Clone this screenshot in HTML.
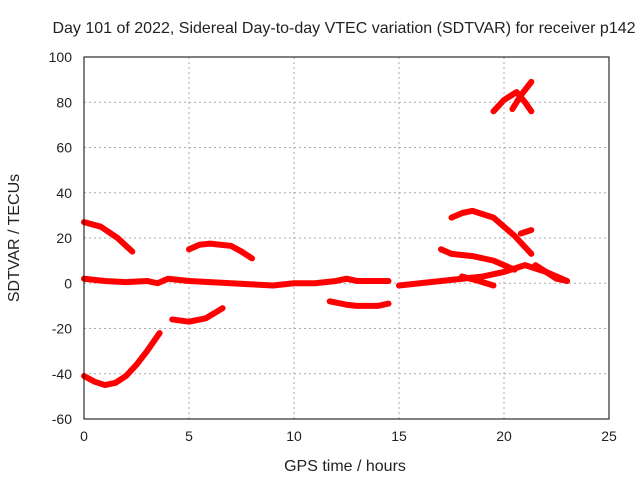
<!DOCTYPE html>
<html><head><meta charset="utf-8"><style>
body{margin:0;background:#fff;}
svg text{font-family:"Liberation Sans",sans-serif;font-size:14px;fill:#222;}
svg text.big{font-size:16px;}
</style></head><body>
<svg width="640" height="480" id="c">
<rect width="640" height="480" fill="#fff"/>
<text class="big" x="344" y="33" text-anchor="middle">Day 101 of 2022, Sidereal Day-to-day VTEC variation (SDTVAR) for receiver p142</text>
<text class="big" x="345" y="471" text-anchor="middle">GPS time / hours</text>
<text class="big" transform="translate(19,238) rotate(-90)" text-anchor="middle">SDTVAR / TECUs</text>
<g id="grid"></g><g id="series"></g>
<rect x="84" y="57" width="525" height="362" fill="none" stroke="#000" stroke-width="1"/>
</svg>
<script>
const xTicks=[0,5,10,15,20,25];
const yTicks=[-60,-40,-20,0,20,40,60,80,100];
const seg1x=[0,0.8,1.6,2.3], seg1y=[27,25,20,14];
const seg2x=[0,0.5,1,1.5,2,2.5,3,3.6], seg2y=[-41,-43.5,-45,-44,-41,-36,-30,-22];
const seg3x=[4.2,5,5.8,6.6], seg3y=[-16,-17,-15.5,-11];
const seg4x=[5,5.5,6,7,7.5,8], seg4y=[15,17,17.5,16.5,14,11];
const seg5x=[0,1,2,3,3.5,4,5,6,7,8,9,10,11,12,12.5,13,14,14.5], seg5y=[2,1,0.5,1,0,2,1,0.5,0,-0.5,-1,0,0,1,2,1,1,1];
const seg6x=[11.7,12.5,13,14,14.5], seg6y=[-8,-9.5,-10,-10,-9];
const seg7x=[15,16,17,18,19,20,21,22,23], seg7y=[-1,0,1,2,3,5,8,5,1];
const seg8x=[17,17.5,18.5,19.5,20.5], seg8y=[15,13,12,10,6];
const seg9x=[17.5,18,18.5,19.5,20.5,21.3], seg9y=[29,31,32,29,21,13];
const seg10x=[19.5,20,20.6,21,21.3], seg10y=[76,81,84.5,80,76];
const seg11x=[20.4,20.8,21.3], seg11y=[77,83,89];
const seg12x=[18,18.8,19.5], seg12y=[3,1,-1];
const seg13x=[20.8,21.3], seg13y=[22,23.5];
const seg14x=[21.5,22,22.5,23], seg14y=[8,5,2,1];
const segsX=[seg1x,seg2x,seg3x,seg4x,seg5x,seg6x,seg7x,seg8x,seg9x,seg10x,seg11x,seg12x,seg13x,seg14x];
const segsY=[seg1y,seg2y,seg3y,seg4y,seg5y,seg6y,seg7y,seg8y,seg9y,seg10y,seg11y,seg12y,seg13y,seg14y];
const X=v=>84+v*21, Y=v=>419-(v+60)*362/160;
const NS="http://www.w3.org/2000/svg";
const g=document.getElementById('grid'), s=document.getElementById('series');
function mk(t,a,p){const e=document.createElementNS(NS,t);for(const k in a)e.setAttribute(k,a[k]);p.appendChild(e);return e;}
xTicks.forEach(v=>{
 if(v>0&&v<25){const l=mk('line',{x1:X(v),x2:X(v),y1:57,y2:419,stroke:'#aaa','stroke-dasharray':'2,3'},g);
 
 }
 const t=mk('text',{x:X(v),y:441,'text-anchor':'middle'},g);t.textContent=v;
 
 
});
yTicks.forEach(v=>{
 if(v>-60&&v<100){const l=mk('line',{x1:84,x2:609,y1:Y(v),y2:Y(v),stroke:'#aaa','stroke-dasharray':'2,3'},g);
 
 }
 const t=mk('text',{x:72,y:Y(v)+5,'text-anchor':'end'},g);t.textContent=v;
 
 
});
segsX.forEach((xs,i)=>{
 const pts=xs.map((x,j)=>X(x)+','+Y(segsY[i][j])).join(' ');
 const p=mk('polyline',{points:pts,fill:'none',stroke:'#f00','stroke-width':6,'stroke-linejoin':'round','stroke-linecap':'round'},s);
 
 
});
</script>
</body></html>
